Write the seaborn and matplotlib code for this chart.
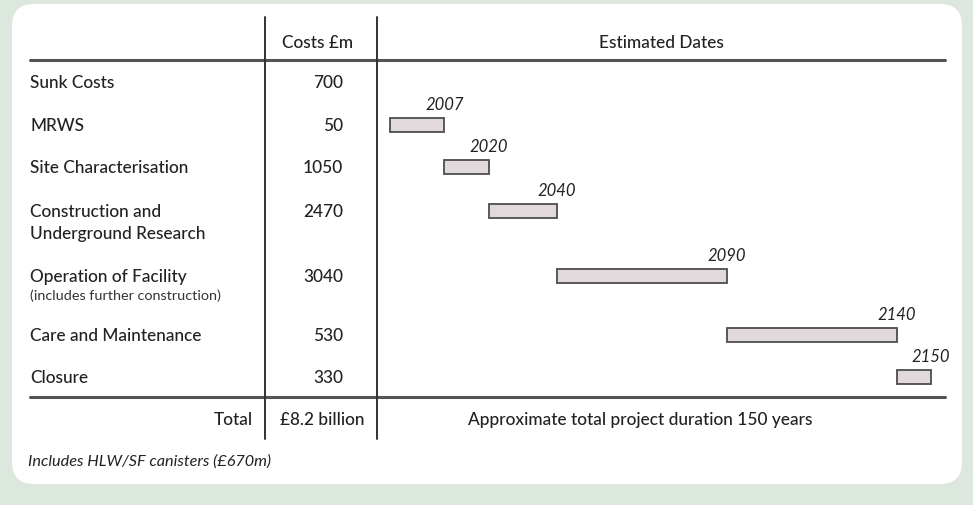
import matplotlib
matplotlib.use("Agg")
import matplotlib.pyplot as plt
from matplotlib.patches import FancyBboxPatch
import seaborn as sns
import pandas as pd

# table data
stages = ["Sunk Costs", "MRWS", "Site Characterisation",
          "Construction and\nUnderground Research", "Operation of Facility",
          "Care and Maintenance", "Closure"]
stage_notes = ["", "", "", "", "(includes further construction)", "", ""]
costs = ["700", "50", "1050", "2470", "3040", "530", "330"]
# timeline bars (sunk costs has no bar)
start_year = [1991, 2007, 2020, 2040, 2090, 2140]
end_year = [2007, 2020, 2040, 2090, 2140, 2150]
total_cost = "£8.2 billion"
duration_text = "Approximate total project duration 150 years"
footnote = "Includes HLW/SF canisters (£670m)"

# layout (pixels)
W, H = 973, 506
row_y = [83, 126, 168, 212, 277, 336, 378]
px_per_year = 3.40
anchor_year, anchor_px = 2074.5, 674
tl_left, tl_right = 378, 945

sns.set_theme(style="white")
plt.rcParams["font.family"] = ["Lato", "DejaVu Sans"]

fig = plt.figure(figsize=(W / 100, H / 100), dpi=100, facecolor="#dce8de")
ax = fig.add_axes([0, 0, 1, 1])
ax.set_xlim(0, W)
ax.set_ylim(H, 0)
ax.axis("off")
ax.set_facecolor("none")

box = FancyBboxPatch((12, 5), 950, 480, boxstyle="round,pad=0,rounding_size=22",
                     facecolor="white", edgecolor="none")
ax.add_patch(box)

txt = "#222222"
fs = 12.4
fw = "medium"
# header
ax.text(318, 43, "Costs £m", ha="center", va="center", fontsize=fs, color=txt, fontweight=fw)
ax.text(661, 43, "Estimated Dates", ha="center", va="center", fontsize=fs, color=txt, fontweight=fw)
# rule lines
ax.plot([30, 945], [61, 61], color="#555555", lw=2.2)
ax.plot([30, 945], [398, 398], color="#555555", lw=2.2)
ax.plot([265, 265], [18, 440], color="#333333", lw=1.4)
ax.plot([377, 377], [18, 440], color="#333333", lw=1.4)

for name, note, cost, y in zip(stages, stage_notes, costs, row_y):
    ax.text(30, y, name.split("\n")[0], ha="left", va="center", fontsize=fs, color=txt, fontweight=fw)
    if "\n" in name:
        ax.text(30, y + 22, name.split("\n")[1], ha="left", va="center", fontsize=fs, color=txt, fontweight=fw)
    if note:
        ax.text(30, y + 19, note, ha="left", va="center", fontsize=10.4, color="#333333")
    ax.text(343, y, cost, ha="right", va="center", fontsize=fs, color=txt, fontweight=fw)

ax.text(253, 420, "Total", ha="right", va="center", fontsize=fs, color=txt, fontweight=fw)
ax.text(322, 420, total_cost, ha="center", va="center", fontsize=fs, color=txt, fontweight=fw)
ax.text(640, 420, duration_text, ha="center", va="center", fontsize=fs, color=txt, fontweight=fw)
ax.text(28, 462, footnote, ha="left", va="center", fontsize=11.7, style="italic", color=txt)

# timeline axes in years
ax2 = fig.add_axes([tl_left / W, 0, (tl_right - tl_left) / W, 1])
ax2.set_facecolor("none")
df = pd.DataFrame({
    "row": row_y[1:],
    "duration": [e - s for s, e in zip(start_year, end_year)],
})
sns.barplot(data=df, x="duration", y="row", orient="y", native_scale=True,
            left=start_year, width=14 / 42, errorbar=None,
            color="#e2d8db", edgecolor="#4d4d4d", linewidth=1.3, ax=ax2)
for e, y in zip(end_year, row_y[1:]):
    ax2.text(e, y - 21, str(e), ha="center", va="center", fontsize=12,
             style="italic", color=txt)
ax2.set_xlim(anchor_year + (tl_left - anchor_px) / px_per_year,
             anchor_year + (tl_right - anchor_px) / px_per_year)
ax2.set_ylim(H, 0)
ax2.axis("off")

fig.savefig("out.png", dpi=100, facecolor=fig.get_facecolor())
